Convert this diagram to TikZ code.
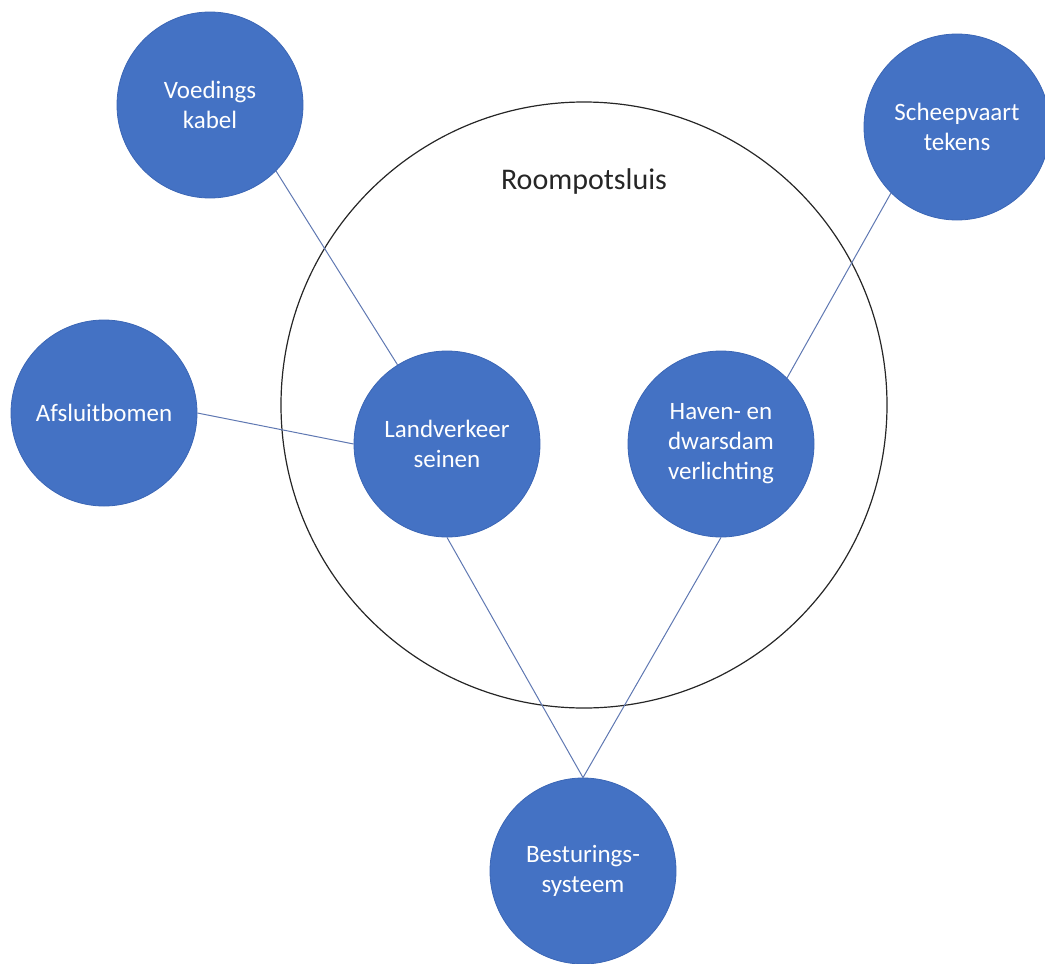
\documentclass[tikz,border=0pt]{standalone}
\usepackage{fontspec}
\setmainfont{Carlito}
\definecolor{officeblue}{HTML}{4472C4}
\definecolor{officeedge}{HTML}{3B66B5}
\definecolor{linkblue}{HTML}{5F78B2}

\begin{document}
\begin{tikzpicture}[
  x=0.5pt,
  y=-0.5pt,
  bubble/.style={
    circle,
    draw=officeedge,
    line width=0.4pt,
    fill=officeblue,
    text=white,
    minimum size=93pt,
    inner sep=0pt,
    align=center,
    font=\fontsize{12.5}{15}\selectfont
  },
  site/.style={
    circle,
    draw=black!85,
    line width=0.6pt,
    minimum size=303pt,
    inner sep=0pt
  },
  link/.style={
    draw=linkblue,
    line width=0.5pt
  }
]

\useasboundingbox (0,0) rectangle (1045,964);

% Lock
\node[site] (sluis) at (584,405) {};
\node[text=black!85,font=\fontsize{15}{18}\selectfont] (title) at (584,181) {Roompotsluis};

% Parts
\node[bubble] (voeding) at (210,105) {Voedings\\kabel};
\node[bubble] (scheep) at (957,127) {Scheepvaart\\tekens};
\node[bubble] (bomen) at (104,413) {Afsluitbomen};
\node[bubble] (land) at (447,444) {Landverkeer\\seinen};
\node[bubble] (haven) at (721,444) {Haven- en\\dwarsdam\\verlichting};
\node[bubble] (besturing) at (583,871) {Besturings-\\systeem};

% Links
\draw[link] (voeding.-45) -- (land.122);
\draw[link] (bomen.east) -- (land.west);
\draw[link] (scheep.225) -- (haven.45);
\draw[link] (land.south) -- (besturing.north);
\draw[link] (haven.south) -- (besturing.north);

\end{tikzpicture}
\end{document}
